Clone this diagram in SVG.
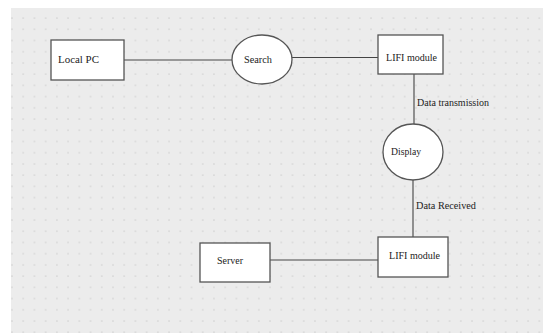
<svg xmlns="http://www.w3.org/2000/svg" width="543" height="333" viewBox="0 0 543 333">
  <style>
    .box { fill: #ffffff; stroke: #555555; stroke-width: 1.3; }
    .edge { stroke: #444444; stroke-width: 1.1; fill: none; }
    .lbl { font-size: 10.6px; fill: #222222; }
  </style>
  <defs>
    <pattern id="dots" patternUnits="userSpaceOnUse" x="6.4" y="12.4" width="11.22" height="11.22">
      <circle cx="5.6" cy="5.6" r="0.8" fill="#cfcfcf"/>
    </pattern>
  </defs>

  <!-- canvas -->
  <rect x="0" y="0" width="543" height="333" fill="#ffffff"/>
  <rect x="11" y="8" width="532" height="325" fill="#ececec"/>
  <rect x="11" y="8" width="532" height="325" fill="url(#dots)"/>

  <g font-family="'Liberation Serif', 'Times New Roman', Times, serif">
    <!-- connectors -->
    <g id="connectors">
      <line class="edge" x1="124" y1="60" x2="232" y2="60"/>
      <line class="edge" x1="292" y1="57.5" x2="378" y2="57.5"/>
      <line class="edge" x1="414" y1="74" x2="414" y2="124"/>
      <line class="edge" x1="413" y1="180" x2="413" y2="237"/>
      <line class="edge" x1="270" y1="260" x2="378" y2="260"/>
      <text class="lbl" x="417" y="106" textLength="72" lengthAdjust="spacingAndGlyphs">Data transmission</text>
      <text class="lbl" x="416" y="209" textLength="60" lengthAdjust="spacingAndGlyphs">Data Received</text>
    </g>

    <g id="local-pc">
      <rect class="box" x="51" y="40" width="73" height="40"/>
      <text class="lbl" x="58" y="63" textLength="41" lengthAdjust="spacingAndGlyphs">Local PC</text>
    </g>

    <g id="search">
      <ellipse class="box" cx="262" cy="59.5" rx="30" ry="24.5"/>
      <text class="lbl" x="244" y="63" textLength="28" lengthAdjust="spacingAndGlyphs">Search</text>
    </g>

    <g id="lifi-top">
      <rect class="box" x="378" y="35" width="65" height="39"/>
      <text class="lbl" x="386" y="61" textLength="51" lengthAdjust="spacingAndGlyphs">LIFI module</text>
    </g>

    <g id="display">
      <ellipse class="box" cx="413" cy="152" rx="30" ry="28"/>
      <text class="lbl" x="391" y="155" textLength="30" lengthAdjust="spacingAndGlyphs">Display</text>
    </g>

    <g id="lifi-bottom">
      <rect class="box" x="378" y="237" width="70" height="40"/>
      <text class="lbl" x="389" y="259" textLength="51" lengthAdjust="spacingAndGlyphs">LIFI module</text>
    </g>

    <g id="server">
      <rect class="box" x="200" y="243" width="70" height="39"/>
      <text class="lbl" x="217" y="264" textLength="26" lengthAdjust="spacingAndGlyphs">Server</text>
    </g>
  </g>
</svg>
